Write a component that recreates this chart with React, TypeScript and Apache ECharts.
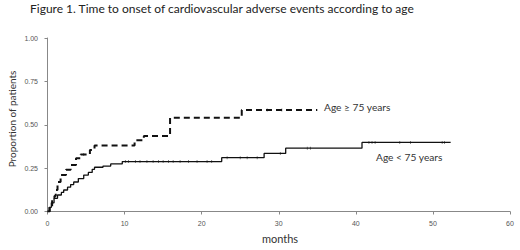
import React, { useEffect, useRef } from "react";
import * as echarts from "echarts";

const titleText = "Figure 1. Time to onset of cardiovascular adverse events according to age";
const xAxisName = "months";
const yAxisName = "Proportion of patients";
const labelOld = "Age \u2265 75 years";
const labelYoung = "Age < 75 years";

const xTicks = [0, 10, 20, 30, 40, 50, 60];
const yTicks = [0, 0.25, 0.5, 0.75, 1];

// Age >= 75 years: [month, cumulative proportion]
const oldCurve: [number, number][] = [
  [0, 0], [0.3, 0.025], [0.6, 0.066], [0.9, 0.09], [1.07, 0.124], [1.3, 0.17],
  [1.7, 0.21], [2.4, 0.24], [3.0, 0.268], [3.7, 0.307], [4.3, 0.328], [5.5, 0.355],
  [6.1, 0.38], [11.3, 0.41], [12.5, 0.435], [15.9, 0.54], [25.2, 0.585], [35, 0.585],
];
// Age < 75 years
const youngCurve: [number, number][] = [
  [0, 0], [0.2, 0.024], [0.5, 0.05], [0.85, 0.076], [1.3, 0.095], [1.8, 0.11],
  [2.1, 0.124], [2.6, 0.14], [3.0, 0.155], [3.4, 0.17], [4.0, 0.19], [4.7, 0.21],
  [5.3, 0.225], [5.8, 0.243], [6.1, 0.255], [7.2, 0.262], [8.2, 0.274], [9.7, 0.288],
  [22.6, 0.31], [28.1, 0.335], [30.9, 0.365], [40.8, 0.398], [52.3, 0.398],
];
// censoring times
const oldCensor = [4.7, 28.5, 30.4];
const youngCensor = [
  10.1, 10.5, 11.4, 12, 12.9, 13.7, 14.4, 15, 15.7, 16.3, 17.2, 18.3, 19.4, 20.7, 21.3,
  23.3, 25, 25.9, 27.2, 30.2, 33.7, 34.1, 41.7, 42.1, 42.5, 45.7, 47.1, 51.2, 51.5,
];

function valueAt(curve: [number, number][], t: number): number {
  let v = 0;
  for (const [x, y] of curve) {
    if (x <= t) v = y;
  }
  return v;
}

export default function App() {
  const ref = useRef<HTMLDivElement>(null);
  useEffect(() => {
    document.body.style.margin = "0";
    if (!ref.current) return;
    const chart = echarts.init(ref.current, undefined, { renderer: "svg" });
    const tickFont = { fontSize: 7, color: "#555", fontFamily: "Liberation Sans" };
    chart.setOption({
      animation: false,
      backgroundColor: "#fff",
      grid: { left: 47.5, right: 10, top: 38, bottom: 38.5 },
      xAxis: {
        type: "value",
        min: xTicks[0],
        max: xTicks[xTicks.length - 1],
        interval: 10,
        offset: 2,
        axisLine: { show: true, lineStyle: { color: "#888", width: 1 } },
        axisTick: { show: true, length: 3, lineStyle: { color: "#888" } },
        axisLabel: { ...tickFont, margin: 6 },
        splitLine: { show: false },
      },
      yAxis: {
        type: "value",
        min: yTicks[0],
        max: yTicks[yTicks.length - 1],
        interval: 0.25,
        offset: 3.5,
        axisLine: { show: true, lineStyle: { color: "#888", width: 1 } },
        axisTick: { show: true, length: 3, lineStyle: { color: "#888" } },
        axisLabel: { ...tickFont, margin: 6, formatter: (v: number) => v.toFixed(2) },
        splitLine: { show: false },
      },
      graphic: [
        {
          type: "text",
          left: 30,
          top: 2,
          style: { text: titleText, font: "12px Lato", fill: "#222" },
        },
        {
          type: "text",
          x: 12,
          y: 119,
          rotation: Math.PI / 2,
          style: {
            text: yAxisName,
            font: "10px Lato",
            fill: "#333",
            align: "center",
            verticalAlign: "middle",
          },
        },
        {
          type: "text",
          x: 280,
          y: 238,
          style: { text: xAxisName, font: "11px Lato", fill: "#333", align: "center", verticalAlign: "middle" },
        },
        {
          type: "text",
          x: 324,
          y: 106.5,
          style: { text: labelOld, font: "10.2px Lato", fill: "#333", verticalAlign: "middle" },
        },
        {
          type: "text",
          x: 376,
          y: 156.5,
          style: { text: labelYoung, font: "10.2px Lato", fill: "#333", verticalAlign: "middle" },
        },
      ],
      series: [
        {
          name: labelOld,
          type: "line",
          step: "end",
          data: oldCurve,
          showSymbol: false,
          lineStyle: { color: "#111", width: 2, type: [6, 4] },
        },
        {
          name: labelYoung,
          type: "line",
          step: "end",
          data: youngCurve,
          showSymbol: false,
          lineStyle: { color: "#111", width: 1.3 },
        },
        {
          type: "scatter",
          data: youngCensor.map((t) => [t, valueAt(youngCurve, t)]),
          symbol: "rect",
          symbolSize: [0.8, 3],
          itemStyle: { color: "#444" },
        },
        {
          type: "scatter",
          data: oldCensor.map((t) => [t, valueAt(oldCurve, t)]),
          symbol: "rect",
          symbolSize: [0.8, 3],
          itemStyle: { color: "#444" },
        },
      ],
    });
    return () => chart.dispose();
  }, []);
  return <div ref={ref} style={{ width: 520, height: 250 }} />;
}
